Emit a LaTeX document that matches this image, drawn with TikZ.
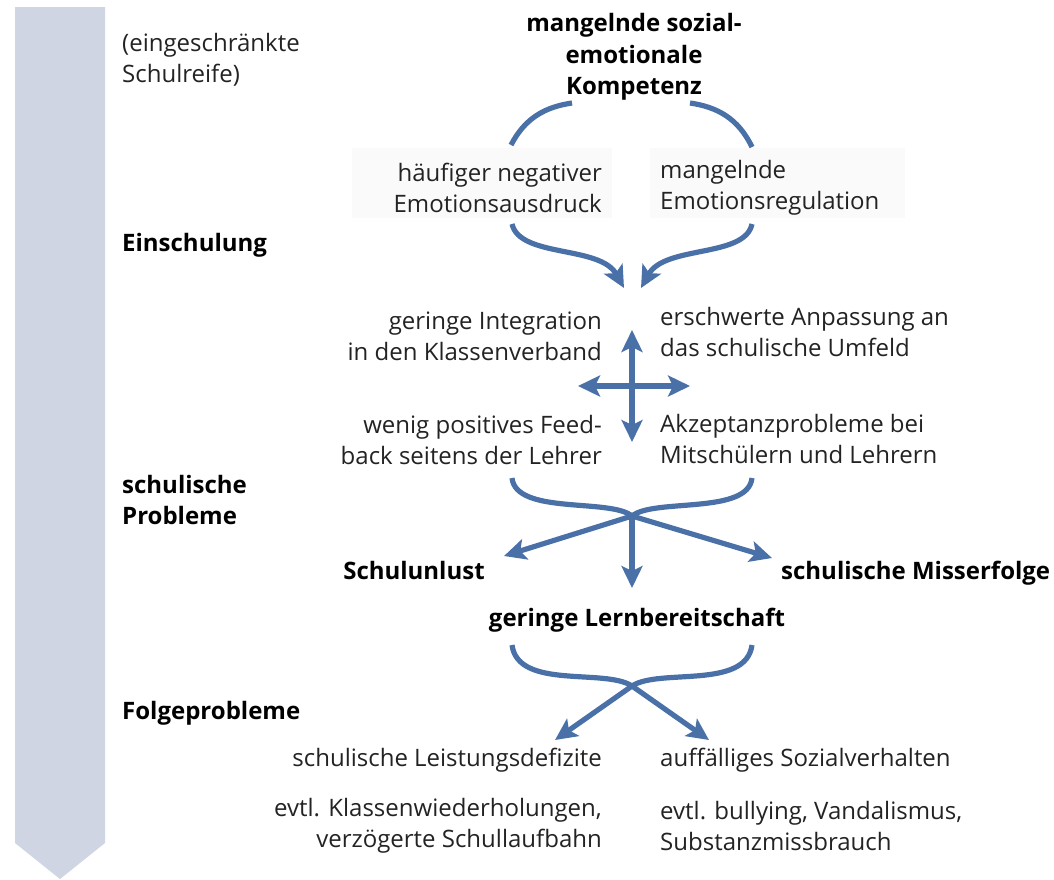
\documentclass[tikz,border=0pt]{standalone}
\usepackage{fontspec}
\setmainfont{Open Sans}
\usetikzlibrary{arrows.meta}
\definecolor{arr}{RGB}{74,112,168}
\definecolor{barc}{RGB}{207,213,227}
\definecolor{txt}{RGB}{35,35,35}
\definecolor{bgbox}{RGB}{250,250,250}
\begin{document}
\begin{tikzpicture}[x=1pt,y=-1pt,
  lab/.style={font=\fontsize{24}{31}\selectfont, text=txt, inner sep=0pt},
  bld/.style={font=\fontsize{24}{31.5}\selectfont\bfseries, text=black, inner sep=0pt},
  curve/.style={draw=arr, line width=5.2pt},
  arrow/.style={curve, -{Stealth[length=22pt,width=21pt,inset=5pt]}},
  dblarrow/.style={curve, {Stealth[length=22pt,width=21pt,inset=5pt]}-{Stealth[length=22pt,width=21pt,inset=5pt]}}]
\useasboundingbox (0,0) rectangle (1054,879);
% left bar
\fill[barc] (15,7) -- (105,7) -- (105,843) -- (60,879) -- (15,843) -- cycle;
% faint backgrounds
\fill[bgbox] (352,148) rectangle (612,218);
\fill[bgbox] (650,148) rectangle (905,218);
% stage labels
\node[lab, anchor=west, align=left] (reife) at (122,60) {(eingeschränkte\\Schulreife)};
\node[bld, anchor=west] (einsch) at (122,245) {Einschulung};
\node[bld, anchor=west, align=left] (schprob) at (122,500) {schulische\\Probleme};
\node[bld, anchor=west] (folge) at (122,713) {Folgeprobleme};
% top
\node[bld, align=center] (komp) at (634,57) {mangelnde sozial-\\emotionale\\Kompetenz};
\node[lab, anchor=east, align=right] (neg) at (602,188) {häufiger negativer\\Emotionsausdruck};
\node[lab, anchor=west, align=left] (reg) at (660,188) {mangelnde\\Emotionsregulation};
% middle
\node[lab, anchor=east, align=right] (integ) at (602,336) {geringe Integration\\in den Klassenverband};
\node[lab, anchor=west, align=left] (anpass) at (660,332) {erschwerte Anpassung an\\das schulische Umfeld};
\node[lab, anchor=east, align=right] (feed) at (602,440) {wenig positives Feed-\\back seitens der Lehrer};
\node[lab, anchor=west, align=left] (akzept) at (660,439) {Akzeptanzprobleme bei\\Mitschülern und Lehrern};
% results
\node[bld] (unlust) at (414,570) {Schulunlust};
\node[bld, anchor=west] (misserf) at (781,573) {schulische Misserfolge};
\node[bld] (lernb) at (637,620) {geringe Lernbereitschaft};
% consequences
\node[lab, anchor=east] (leist) at (602,760) {schulische Leistungsdefizite};
\node[lab, anchor=west] (sozial) at (660,760) {auffälliges Sozialverhalten};
\node[lab, anchor=east, align=right] (wdh) at (602,826) {evtl. Klassenwiederholungen,\\verzögerte Schullaufbahn};
\node[lab, anchor=west, align=left] (bully) at (660,826) {evtl. bullying, Vandalismus,\\Substanzmissbrauch};
% coordinates
\coordinate (a1) at (511,145);
\coordinate (a2) at (572,103);
\coordinate (a3) at (690,103);
\coordinate (a4) at (752,147);
\coordinate (b1) at (512,224);
\coordinate (b2) at (624,288);
\coordinate (b3) at (752,224);
\coordinate (b4) at (641,288);
\coordinate (cu) at (632,330);
\coordinate (cd) at (632,442);
\coordinate (cl) at (578,386);
\coordinate (cr) at (690,386);
\coordinate (d1) at (512,478);
\coordinate (d2) at (752,478);
\coordinate (dj) at (632,516);
\coordinate (dl) at (504,556);
\coordinate (dd) at (632,588);
\coordinate (dr) at (772,558);
\coordinate (e1) at (512,645);
\coordinate (e2) at (752,645);
\coordinate (ej) at (632,686);
\coordinate (el) at (555,740);
\coordinate (er) at (709,740);
% top arcs
\draw[curve] (a1) .. controls (525,118) and (545,107) .. (a2);
\draw[curve] (a3) .. controls (717,107) and (738,118) .. (a4);
% converging arrows
\draw[arrow] (b1) .. controls (520,258) and (600,245) .. (b2);
\draw[arrow] (b3) .. controls (745,258) and (665,245) .. (b4);
% cross
\draw[dblarrow] (cu) -- (cd);
\draw[dblarrow] (cl) -- (cr);
% brace 1
\draw[curve] (d1) .. controls (516,515) and (610,498) .. (dj);
\draw[curve] (d2) .. controls (748,515) and (654,498) .. (dj);
\draw[arrow] (dj) -- (dl);
\draw[arrow] (dj) -- (dd);
\draw[arrow] (dj) -- (dr);
% brace 2 (crossing)
\draw[arrow] (e1) .. controls (518,690) and (605,668) .. (ej) -- (er);
\draw[arrow] (e2) .. controls (746,690) and (659,668) .. (ej) -- (el);
\end{tikzpicture}
\end{document}
